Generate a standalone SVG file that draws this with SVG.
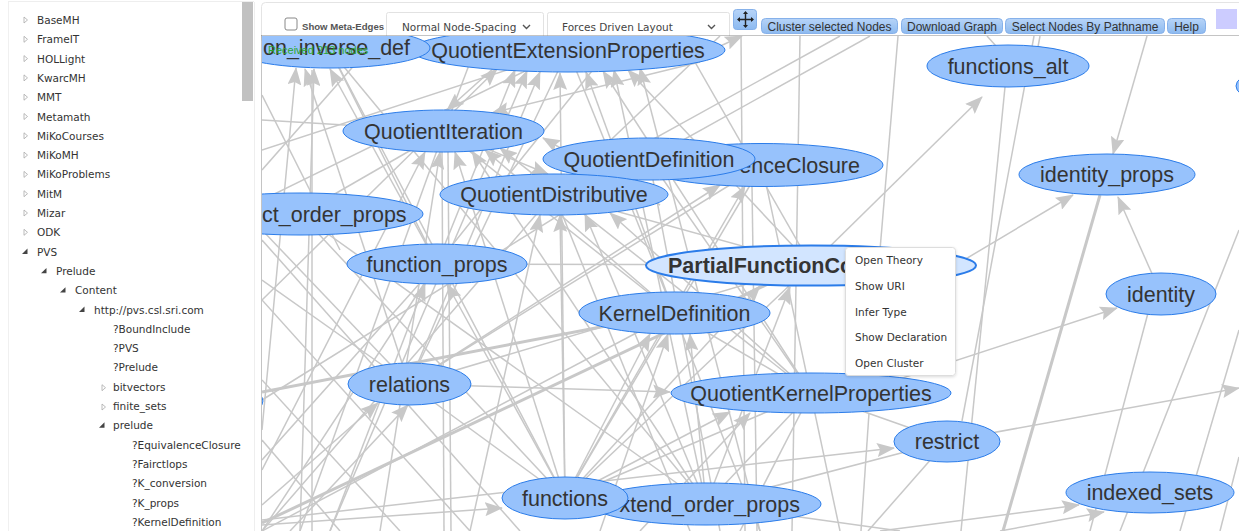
<svg xmlns="http://www.w3.org/2000/svg" width="1239" height="531" viewBox="0 0 1239 531">
<style>
.e{stroke:#c8c8c8;stroke-width:1.5;fill:none}
.t{stroke-width:3}
.a{marker-end:url(#arr)}
.n ellipse{fill:#97c2fc;stroke:#2b7ce9;stroke-width:1}
.n text{font-family:"Liberation Sans",Arial,sans-serif;font-size:21.5px;fill:#343434;text-anchor:middle}
.tree text{font-family:"DejaVu Sans",Verdana,sans-serif;font-size:10.5px;fill:#333}
.tc{fill:none;stroke:#aaa;stroke-width:0.8}
.tx{fill:#444}
.menu text{font-family:"DejaVu Sans",Verdana,sans-serif;font-size:10.5px;fill:#333}
.btn rect{fill:url(#bg);stroke:#86b1ea;stroke-width:1}
.btn text{font-family:"Liberation Sans",Arial,sans-serif;font-size:12px;fill:#333;text-anchor:middle}
.sel rect{fill:#fff;stroke:#e2e2e2}
.sel text{font-family:"DejaVu Sans",Verdana,sans-serif;font-size:10.5px;fill:#444}
.chev{fill:none;stroke:#555;stroke-width:1.4}
</style>
<defs>
<marker id="arr" viewBox="0 0 18 14" refX="17" refY="7" markerWidth="18" markerHeight="14" markerUnits="userSpaceOnUse" orient="auto"><path d="M0,0 L18,7 L0,14 L3,7 z" fill="#c8c8c8"/></marker>
<linearGradient id="bg" x1="0" y1="0" x2="0" y2="1"><stop offset="0" stop-color="#b7d4f8"/><stop offset="1" stop-color="#8dbaf0"/></linearGradient>
<clipPath id="gc"><rect x="262" y="36" width="977" height="495"/></clipPath>
<filter id="sh" x="-10%" y="-10%" width="130%" height="130%"><feDropShadow dx="0" dy="1" stdDeviation="1.5" flood-color="#000" flood-opacity="0.15"/></filter>
</defs>
<rect x="0" y="0" width="1239" height="531" fill="#fff"/>

<!-- left tree panel -->
<g id="tree" class="tree">
<line x1="8.5" y1="2" x2="8.5" y2="531" stroke="#f0f0f0"/>
<line x1="8" y1="1.5" x2="254" y2="1.5" stroke="#eee"/>
<rect x="242" y="2" width="11" height="99" fill="#c1c1c1"/>
<line x1="254.5" y1="2" x2="254.5" y2="531" stroke="#eee"/>
<polygon class="tc" points="24,17 27.5,20 24,23"/><text x="37" y="24">BaseMH</text>
<polygon class="tc" points="24,36.3 27.5,39.3 24,42.3"/><text x="37" y="43.3">FrameIT</text>
<polygon class="tc" points="24,55.6 27.5,58.6 24,61.6"/><text x="37" y="62.6">HOLLight</text>
<polygon class="tc" points="24,74.9 27.5,77.9 24,80.9"/><text x="37" y="81.9">KwarcMH</text>
<polygon class="tc" points="24,94.2 27.5,97.2 24,100.2"/><text x="37" y="101.2">MMT</text>
<polygon class="tc" points="24,113.5 27.5,116.5 24,119.5"/><text x="37" y="120.5">Metamath</text>
<polygon class="tc" points="24,132.8 27.5,135.8 24,138.8"/><text x="37" y="139.8">MiKoCourses</text>
<polygon class="tc" points="24,152.1 27.5,155.1 24,158.1"/><text x="37" y="159.1">MiKoMH</text>
<polygon class="tc" points="24,171.4 27.5,174.4 24,177.4"/><text x="37" y="178.4">MiKoProblems</text>
<polygon class="tc" points="24,190.7 27.5,193.7 24,196.7"/><text x="37" y="197.7">MitM</text>
<polygon class="tc" points="24,210 27.5,213 24,216"/><text x="37" y="217">Mizar</text>
<polygon class="tc" points="24,229.3 27.5,232.3 24,235.3"/><text x="37" y="236.3">ODK</text>
<polygon class="tx" points="27.5,248.6 27.5,254 22,254"/><text x="37" y="255.6">PVS</text>
<polygon class="tx" points="46.5,267.9 46.5,273.3 41,273.3"/><text x="56" y="274.9">Prelude</text>
<polygon class="tx" points="65.5,287.2 65.5,292.6 60,292.6"/><text x="75" y="294.2">Content</text>
<polygon class="tx" points="84.5,306.5 84.5,311.9 79,311.9"/><text x="94" y="313.5">http://pvs.csl.sri.com</text>
<text x="113" y="332.8">?BoundInclude</text>
<text x="113" y="352.1">?PVS</text>
<text x="113" y="371.4">?Prelude</text>
<polygon class="tc" points="102,384.7 105.5,387.7 102,390.7"/><text x="113" y="390.7">bitvectors</text>
<polygon class="tc" points="102,404 105.5,407 102,410"/><text x="113" y="410">finite_sets</text>
<polygon class="tx" points="104.5,422.3 104.5,427.7 99,427.7"/><text x="113" y="429.3">prelude</text>
<text x="132" y="448.6">?EquivalenceClosure</text>
<text x="132" y="467.9">?Fairctlops</text>
<text x="132" y="487.2">?K_conversion</text>
<text x="132" y="506.5">?K_props</text>
<text x="132" y="525.8">?KernelDefinition</text>
</g>

<!-- toolbar -->
<g id="toolbar">
<rect x="261.5" y="2.5" width="985" height="40" rx="4" fill="#fff" stroke="#e4e4e4"/>
<rect x="285" y="18" width="12" height="12" rx="2" fill="#fff" stroke="#888"/>
<text x="302" y="30" font-family="Liberation Sans,Arial,sans-serif" font-size="9.6" font-weight="bold" fill="#555">Show Meta-Edges</text>
<g class="sel"><rect x="386.5" y="12.5" width="157" height="30" rx="2"/><text x="402" y="31">Normal Node-Spacing</text><polyline class="chev" points="523,25 526.5,28.5 530,25"/></g>
<g class="sel"><rect x="547.5" y="12.5" width="182" height="30" rx="2"/><text x="562" y="31">Forces Driven Layout</text><polyline class="chev" points="708,25 711.5,28.5 715,25"/></g>
<g class="btn"><rect x="733.5" y="9.5" width="23" height="20" rx="3"/>
<path d="M738,19.5 H753 M745.5,12 V27" stroke="#222" stroke-width="1.4" fill="none"/>
<polygon points="745.5,11 743,14 748,14" fill="#222"/><polygon points="745.5,28 743,25 748,25" fill="#222"/>
<polygon points="737,19.5 740,17 740,22" fill="#222"/><polygon points="754,19.5 751,17 751,22" fill="#222"/></g>
<g class="btn"><rect x="761.5" y="18.5" width="136" height="15" rx="4"/><text x="829.5" y="31">Cluster selected Nodes</text></g>
<g class="btn"><rect x="901.5" y="18.5" width="101" height="15" rx="4"/><text x="952" y="31">Download Graph</text></g>
<g class="btn"><rect x="1005.5" y="18.5" width="159" height="15" rx="4"/><text x="1085" y="31">Select Nodes By Pathname</text></g>
<g class="btn"><rect x="1167.5" y="18.5" width="38" height="15" rx="4"/><text x="1186.5" y="31">Help</text></g>
<rect x="1216" y="9" width="21" height="20" fill="#ccccff"/>
</g>

<!-- graph canvas -->
<rect x="262" y="36" width="977" height="495" fill="#fff"/>
<g clip-path="url(#gc)">
<g id="connectors">
<line class="e a" x1="565" y1="498" x2="560" y2="73"/>
<line class="e a" x1="674" y1="313" x2="586" y2="72"/>
<line class="e a" x1="409" y1="384" x2="540" y2="72"/>
<line class="e a" x1="811" y1="393" x2="603" y2="71"/>
<line class="e a" x1="330" y1="531" x2="527" y2="71"/>
<line class="e a" x1="706" y1="504" x2="614" y2="70"/>
<line class="e a" x1="811" y1="265" x2="628" y2="70"/>
<line class="e a" x1="437" y1="264" x2="515" y2="70"/>
<line class="e a" x1="262" y1="300" x2="497" y2="69"/>
<line class="e a" x1="760" y1="531" x2="640" y2="68"/>
<line class="e a" x1="690" y1="60" x2="742" y2="36"/>
<line class="e a" x1="565" y1="498" x2="455" y2="152"/>
<line class="e a" x1="706" y1="504" x2="472" y2="151"/>
<line class="e a" x1="380" y1="531" x2="440" y2="152"/>
<line class="e a" x1="674" y1="313" x2="485" y2="150"/>
<line class="e a" x1="811" y1="393" x2="500" y2="148"/>
<line class="e a" x1="262" y1="470" x2="425" y2="152"/>
<line class="e a" x1="409" y1="384" x2="305" y2="69"/>
<line class="e a" x1="262" y1="430" x2="296" y2="68"/>
<line class="e a" x1="437" y1="264" x2="330" y2="69"/>
<line class="e a" x1="300" y1="531" x2="314" y2="69"/>
<line class="e a" x1="565" y1="498" x2="560" y2="215"/>
<line class="e a" x1="706" y1="504" x2="585" y2="214"/>
<line class="e a" x1="470" y1="531" x2="540" y2="215"/>
<line class="e a" x1="811" y1="393" x2="610" y2="213"/>
<line class="e a" x1="525" y1="40" x2="447" y2="110"/>
<line class="e a" x1="700" y1="62" x2="492" y2="113"/>
<line class="e a" x1="660" y1="205" x2="543" y2="138"/>
<line class="e a" x1="444" y1="131" x2="548" y2="174"/>
<line class="e a" x1="409" y1="384" x2="720" y2="185"/>
<line class="e a" x1="565" y1="498" x2="745" y2="186"/>
<line class="e a" x1="565" y1="498" x2="447" y2="284"/>
<line class="e a" x1="330" y1="531" x2="425" y2="284"/>
<line class="e a" x1="565" y1="498" x2="650" y2="334"/>
<line class="e a" x1="706" y1="504" x2="690" y2="334"/>
<line class="e a" x1="600" y1="531" x2="668" y2="334"/>
<line class="e a" x1="290" y1="531" x2="408" y2="405"/>
<line class="e a" x1="262" y1="505" x2="378" y2="403"/>
<line class="e a" x1="409" y1="384" x2="670" y2="392"/>
<line class="e a" x1="565" y1="498" x2="730" y2="412"/>
<line class="e a" x1="640" y1="531" x2="750" y2="413"/>
<line class="e a" x1="262" y1="520" x2="894" y2="448"/>
<line class="e a" x1="880" y1="531" x2="1079" y2="505"/>
<line class="e a" x1="1000" y1="531" x2="1104" y2="512"/>
<line class="e a" x1="947" y1="441" x2="1239" y2="388"/>
<line class="e a" x1="811" y1="265" x2="982" y2="97"/>
<line class="e a" x1="880" y1="310" x2="1073" y2="195"/>
<line class="e a" x1="820" y1="405" x2="1117" y2="308"/>
<line class="e a" x1="1161" y1="294" x2="1118" y2="197"/>
<line class="e a" x1="1147" y1="36" x2="1113" y2="154"/>
<line class="e a" x1="262" y1="525" x2="502" y2="508"/>
<line class="e a" x1="706" y1="504" x2="790" y2="287"/>
<line class="e a" x1="565" y1="498" x2="760" y2="286"/>
<line class="e" x1="312" y1="70" x2="312" y2="531"/>
<line class="e" x1="442" y1="152" x2="444" y2="531"/>
<line class="e" x1="448" y1="152" x2="451" y2="531"/>
<line class="e" x1="741" y1="36" x2="745" y2="531"/>
<line class="e" x1="752" y1="186" x2="757" y2="531"/>
<line class="e" x1="800" y1="36" x2="792" y2="531"/>
<line class="e" x1="898" y1="36" x2="880" y2="250"/>
<line class="e" x1="987" y1="36" x2="996" y2="46"/>
<line class="e" x1="1040" y1="36" x2="1038" y2="47"/>
<line class="e" x1="1005" y1="87" x2="961" y2="531"/>
<line class="e" x1="1034" y1="36" x2="962" y2="421"/>
<line class="e t" x1="1100" y1="195" x2="1003" y2="531"/>
<line class="e" x1="1148" y1="313" x2="1090" y2="531"/>
<line class="e" x1="1239" y1="230" x2="1120" y2="531"/>
<line class="e" x1="1239" y1="457" x2="1220" y2="531"/>
<line class="e" x1="1239" y1="330" x2="1180" y2="531"/>
<line class="e" x1="869" y1="413" x2="861" y2="531"/>
<line class="e" x1="811" y1="393" x2="947" y2="441"/>
<line class="e" x1="947" y1="441" x2="868" y2="531"/>
<line class="e" x1="262" y1="240" x2="520" y2="531"/>
<line class="e" x1="262" y1="300" x2="470" y2="531"/>
<line class="e" x1="262" y1="380" x2="400" y2="531"/>
<line class="e" x1="262" y1="440" x2="340" y2="531"/>
<line class="e" x1="409" y1="384" x2="262" y2="230"/>
<line class="e" x1="409" y1="384" x2="262" y2="280"/>
<line class="e" x1="437" y1="264" x2="262" y2="460"/>
<line class="e" x1="437" y1="264" x2="262" y2="531"/>
<line class="e" x1="300" y1="214" x2="565" y2="498"/>
<line class="e" x1="300" y1="214" x2="706" y2="504"/>
<line class="e" x1="330" y1="50" x2="565" y2="498"/>
<line class="e" x1="330" y1="50" x2="706" y2="504"/>
<line class="e" x1="444" y1="131" x2="300" y2="531"/>
<line class="e" x1="554" y1="194" x2="262" y2="531"/>
<line class="e t" x1="262" y1="523" x2="840" y2="250"/>
<line class="e t" x1="262" y1="392" x2="674" y2="313"/>
<line class="e" x1="565" y1="498" x2="811" y2="393"/>
<line class="e" x1="706" y1="504" x2="811" y2="393"/>
<line class="e" x1="437" y1="264" x2="811" y2="265"/>
<line class="e" x1="554" y1="194" x2="811" y2="265"/>
<line class="e" x1="674" y1="313" x2="811" y2="393"/>
<line class="e" x1="649" y1="159" x2="811" y2="393"/>
<line class="e" x1="444" y1="131" x2="674" y2="313"/>
<line class="e" x1="568" y1="50" x2="674" y2="313"/>
<line class="e" x1="330" y1="50" x2="437" y2="264"/>
<line class="e" x1="568" y1="50" x2="262" y2="200"/>
<line class="e" x1="568" y1="50" x2="262" y2="150"/>
<line class="e" x1="444" y1="131" x2="262" y2="120"/>
<line class="e" x1="568" y1="50" x2="409" y2="384"/>
<line class="e" x1="649" y1="159" x2="262" y2="400"/>
<line class="e" x1="762" y1="165" x2="565" y2="498"/>
<line class="e" x1="762" y1="165" x2="409" y2="384"/>
<line class="e" x1="811" y1="265" x2="565" y2="498"/>
<line class="e" x1="811" y1="265" x2="409" y2="384"/>
<line class="e" x1="674" y1="313" x2="262" y2="531"/>
<line class="e" x1="720" y1="36" x2="554" y2="194"/>
<line class="e" x1="620" y1="36" x2="437" y2="264"/>
<line class="e" x1="680" y1="36" x2="811" y2="265"/>
<line class="e" x1="262" y1="95" x2="340" y2="250"/>
<line class="e" x1="380" y1="36" x2="262" y2="170"/>
<line class="e" x1="706" y1="504" x2="947" y2="441"/>
<line class="e" x1="409" y1="384" x2="565" y2="498"/>
<line class="e" x1="300" y1="214" x2="444" y2="131"/>
<line class="e" x1="480" y1="36" x2="444" y2="131"/>
<line class="e" x1="706" y1="504" x2="900" y2="531"/>
<line class="e" x1="811" y1="393" x2="740" y2="531"/>
<line class="e" x1="674" y1="313" x2="760" y2="531"/>
<line class="e" x1="649" y1="159" x2="720" y2="531"/>
<line class="e" x1="554" y1="194" x2="690" y2="531"/>
<line class="e" x1="762" y1="165" x2="840" y2="531"/>
<line class="e" x1="554" y1="194" x2="840" y2="36"/>
<line class="e" x1="649" y1="159" x2="870" y2="36"/>
</g>

<g id="n-edge-left" class="n"><ellipse cx="200" cy="401" rx="63" ry="21"/></g>
<g id="n-edge-right" class="n"><ellipse cx="1300" cy="86" rx="64" ry="21"/></g>
<g id="n-QuotientExtensionProperties" class="n"><ellipse cx="568" cy="50" rx="157" ry="22"/><text x="568" y="58">QuotientExtensionProperties</text></g>
<g id="n-on_inverse_def" class="n"><ellipse cx="330" cy="48" rx="100" ry="20"/><text x="263" y="55" style="text-anchor:start">on_inverse_def</text></g>
<g id="n-functions_alt" class="n"><ellipse cx="1008" cy="66" rx="81" ry="21"/><text x="1008" y="74">functions_alt</text></g>
<g id="n-QuotientIteration" class="n"><ellipse cx="443.5" cy="131" rx="100.5" ry="21"/><text x="443.5" y="139">QuotientIteration</text></g>
<g id="n-EquivalenceClosure" class="n"><ellipse cx="762" cy="165" rx="121" ry="21.5"/><text x="860" y="173" style="text-anchor:end">enceClosure</text></g>
<g id="n-QuotientDefinition" class="n"><ellipse cx="649" cy="159" rx="106" ry="21"/><text x="649" y="167">QuotientDefinition</text></g>
<g id="n-QuotientDistributive" class="n"><ellipse cx="554" cy="194.5" rx="114" ry="20.5"/><text x="554" y="202">QuotientDistributive</text></g>
<g id="n-ct_order_props" class="n"><ellipse cx="300" cy="214" rx="123" ry="21"/><text x="262" y="221.5" style="text-anchor:start">ct_order_props</text></g>
<g id="n-identity_props" class="n"><ellipse cx="1107" cy="174.5" rx="88" ry="20.5"/><text x="1107" y="182">identity_props</text></g>
<g id="n-function_props" class="n"><ellipse cx="437" cy="264" rx="90" ry="20"/><text x="437" y="271.5">function_props</text></g>
<g id="n-PartialFunctionComposition" class="n"><ellipse cx="811" cy="265.5" rx="165" ry="20" style="fill:#d2e5ff;stroke-width:2"/><text x="668" y="273" font-weight="bold" style="text-anchor:start">PartialFunctionCo</text></g>
<g id="n-identity" class="n"><ellipse cx="1161" cy="294" rx="55" ry="21"/><text x="1161" y="301.5">identity</text></g>
<g id="n-KernelDefinition" class="n"><ellipse cx="674.5" cy="313" rx="95.5" ry="21"/><text x="674.5" y="320.5">KernelDefinition</text></g>
<g id="n-relations" class="n"><ellipse cx="409.5" cy="384" rx="61.5" ry="21"/><text x="409.5" y="391.5">relations</text></g>
<g id="n-QuotientKernelProperties" class="n"><ellipse cx="811" cy="393" rx="140" ry="20"/><text x="811" y="400.5">QuotientKernelProperties</text></g>
<g id="n-restrict" class="n"><ellipse cx="947" cy="441.5" rx="53" ry="20.5"/><text x="947" y="449">restrict</text></g>
<g id="n-indexed_sets" class="n"><ellipse cx="1150" cy="492.5" rx="84" ry="20.5"/><text x="1150" y="500">indexed_sets</text></g>
<g id="n-extend_order_props" class="n"><ellipse cx="706" cy="504" rx="115" ry="21"/><text x="800" y="511.5" style="text-anchor:end">xtend_order_props</text></g>
<g id="n-functions" class="n"><ellipse cx="565" cy="498" rx="63" ry="21"/><text x="565" y="505.5">functions</text></g>

<text x="268" y="54" font-family="Liberation Sans,Arial,sans-serif" font-size="11" fill="#2ea62e">Received 213 nodes</text>
</g>
<line x1="261.5" y1="35.5" x2="1239" y2="35.5" stroke="#888" stroke-dasharray="1,1"/>
<line x1="261.5" y1="35.5" x2="261.5" y2="531" stroke="#888" stroke-dasharray="1,1"/>

<!-- context menu -->
<g id="context-menu" class="menu">
<rect x="845.5" y="247.5" width="110" height="128" rx="3" fill="#fff" stroke="#ddd" filter="url(#sh)"/>
<text x="855" y="264">Open Theory</text>
<text x="855" y="290">Show URI</text>
<text x="855" y="316">Infer Type</text>
<text x="855" y="341">Show Declaration</text>
<text x="855" y="367">Open Cluster</text>
</g>
</svg>
